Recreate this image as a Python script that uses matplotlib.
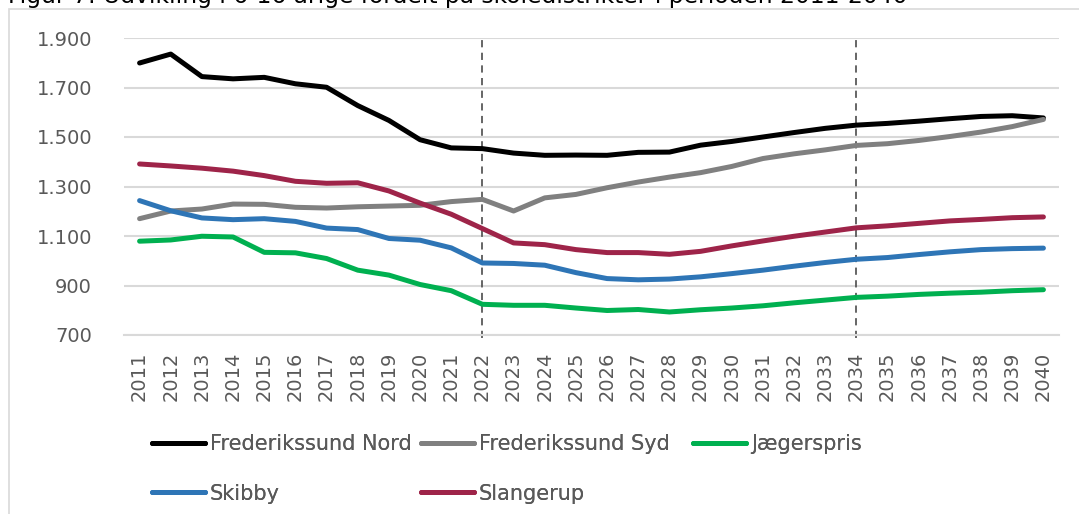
import matplotlib
matplotlib.use("Agg")
import matplotlib.pyplot as plt
from matplotlib.patches import Rectangle
from matplotlib.lines import Line2D

years = [str(y) for y in range(2011, 2041)]

nord = [1799, 1835, 1744, 1735, 1741, 1715, 1701, 1627, 1567, 1489, 1456, 1453,
        1435, 1426, 1427, 1426, 1438, 1439, 1467, 1482, 1500, 1518, 1535, 1548,
        1555, 1564, 1574, 1583, 1586, 1577]
syd = [1170, 1201, 1209, 1229, 1228, 1216, 1213, 1218, 1221, 1224, 1239, 1248,
       1201, 1254, 1268, 1295, 1318, 1338, 1356, 1381, 1413, 1432, 1448, 1466,
       1473, 1486, 1502, 1520, 1542, 1571]
jaeger = [1079, 1084, 1099, 1096, 1034, 1032, 1009, 962, 942, 904, 879, 824,
          820, 820, 809, 799, 803, 793, 802, 809, 818, 830, 841, 852,
          857, 864, 869, 873, 879, 883]
skibby = [1243, 1202, 1173, 1166, 1170, 1159, 1132, 1126, 1090, 1083, 1052, 991,
          989, 982, 952, 928, 923, 926, 935, 948, 962, 978, 993, 1006,
          1013, 1025, 1036, 1045, 1049, 1051]
slangerup = [1391, 1383, 1374, 1362, 1344, 1321, 1313, 1315, 1282, 1233, 1188, 1130,
             1072, 1065, 1045, 1033, 1033, 1026, 1038, 1060, 1080, 1099, 1116, 1133,
             1141, 1151, 1161, 1167, 1174, 1177]

series_names = ["Frederikssund Nord", "Frederikssund Syd", "Jægerspris", "Skibby", "Slangerup"]
series_vals = [nord, syd, jaeger, skibby, slangerup]
colors = ["#000000", "#808080", "#00B050", "#2E75B6", "#9E2449"]
marker_years = ["2022", "2034"]
yticks = [700, 900, 1100, 1300, 1500, 1700, 1900]
title = "Figur 7: Udvikling i 6-16 årige fordelt på skoledistrikter i perioden 2011-2040"

W, H = 1079, 514
fig = plt.figure(figsize=(W / 100, H / 100), dpi=100)
plt.rcParams['font.family'] = ['DejaVu Sans']
txt = "#595959"

ax = fig.add_axes([124 / W, 1 - 335 / H, (1059 - 124) / W, (335 - 38) / H])
x = list(range(len(years)))
lines = {}
for name, vals, c in zip(series_names, series_vals, colors):
    ln, = ax.plot(x, vals, color=c, lw=3.6, solid_capstyle='round', solid_joinstyle='round',
                  label=name, zorder=3)
    lines[name] = ln

for my in marker_years:
    xi = years.index(my)
    ax.plot([xi, xi], [688, 1900], color="#595959", lw=1.3, ls=(0, (4, 3)),
            clip_on=False, zorder=2)

ax.set_xlim(-0.5, len(years) - 0.5)
ax.set_ylim(700, 1900)
ax.set_yticks(yticks)
ax.set_yticklabels([f"{v:,}".replace(",", ".") for v in yticks])
ax.set_xticks(x)
ax.set_xticklabels(years, rotation=90)
ax.grid(axis='y', color="#D9D9D9", lw=1.5, zorder=0)
ax.set_axisbelow(True)
for s in ['top', 'right', 'left']:
    ax.spines[s].set_visible(False)
ax.spines['bottom'].set_color("#D9D9D9")
ax.spines['bottom'].set_linewidth(1.5)
ax.tick_params(axis='y', length=0, pad=23, labelsize=14, labelcolor=txt)
ax.tick_params(axis='x', length=0, pad=12, labelsize=14, labelcolor=txt)
ax.set_ylim(700, 1900)

# legend laid out in three fixed-width columns (row-wise order as in the reference)
legend_cols = [(152, ["Frederikssund Nord", "Skibby"]),
               (421, ["Frederikssund Syd", "Slangerup"]),
               (693, ["Jægerspris"])]
for xpx, names in legend_cols:
    hs = [Line2D([0], [0], color=lines[n].get_color(), lw=3.6, solid_capstyle='round')
          for n in names]
    lg = fig.legend(hs, names, ncol=1, loc='upper left',
                    bbox_to_anchor=(xpx / W, 1 - 434 / H), frameon=False,
                    fontsize=15, labelcolor=txt, handlelength=2.55, handletextpad=0.22,
                    labelspacing=1.43, borderaxespad=0, borderpad=0)
    fig.add_artist(lg)

fig.add_artist(Rectangle((9 / W, -0.1), 1.2, 1.1 - 9 / H, transform=fig.transFigure,
                         fill=False, edgecolor="#D9D9D9", lw=1.2))
fig.text(8 / W, 1 - 3 / H, title, fontsize=16.8, color="#000000", ha='left', va='baseline')

fig.savefig("out.png", dpi=100)
